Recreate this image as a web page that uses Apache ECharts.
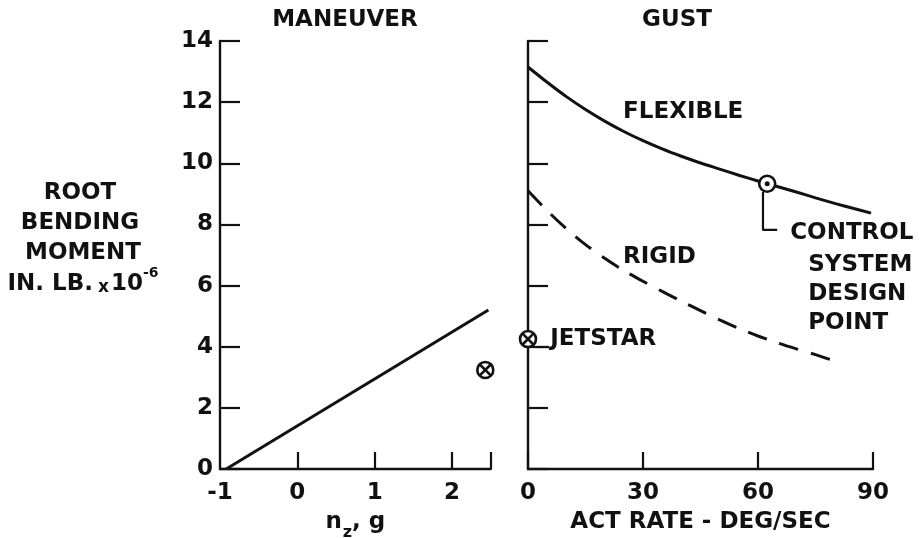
<!DOCTYPE html>
<html>
<head>
<meta charset="utf-8">
<script src="https://cdn.jsdelivr.net/npm/echarts@6/dist/echarts.min.js"></script>
<style>
html,body{margin:0;padding:0;background:#fff;}
#chart{width:922px;height:538px;}
</style>
</head>
<body>
<div id="chart"></div>
<script>
// ---- data ----
const yTicks = [0, 2, 4, 6, 8, 10, 12, 14];
const maneuverXTicks = [-1, 0, 1, 2];
const gustXTicks = [0, 30, 60, 90];

const maneuverNz = [-0.92, 2.47];
const maneuverMoment = [0, 5.2];

const gustRateFlex = [0, 5, 10, 15, 20, 25, 30, 35, 40, 45, 50, 55, 60, 65, 70, 75, 80, 85, 89.5];
const flexibleMoment = [13.15, 12.65, 12.18, 11.76, 11.38, 11.04, 10.74, 10.47, 10.23, 10.01, 9.81, 9.61, 9.42, 9.24, 9.06, 8.87, 8.69, 8.52, 8.37];

const gustRateRigid = [0, 5, 10, 15, 20, 25, 30, 35, 40, 45, 50, 55, 60, 65, 70, 75, 80.7];
const rigidMoment = [9.1, 8.45, 7.86, 7.34, 6.89, 6.49, 6.14, 5.81, 5.49, 5.18, 4.88, 4.6, 4.35, 4.13, 3.93, 3.74, 3.5];

const maneuverPoint = [2.43, 3.24];   // crossed circle, maneuver panel
const jetstarPoint = [0, 4.25];       // crossed circle, gust panel
const designPoint = [62.4, 9.33];     // control system design point

const designLeader = [[61.3, 9.06], [61.3, 7.82], [65.0, 7.82]];
const jetstarLeader = [[2.35, 3.99], [5.5, 3.99]];

const gustLabels = [
  { text: 'FLEXIBLE', at: [24.8, 11.68] },
  { text: 'RIGID', at: [24.8, 6.93] },
  { text: 'JETSTAR', at: [5.8, 4.26] },
  { text: 'CONTROL', at: [68.4, 7.72] },
  { text: 'SYSTEM\nDESIGN\nPOINT', at: [73.1, 5.72] }
];

// ---- chart ----
const FONT = 'DejaVu Sans';
const INK = '#111';
const FS = 23;
const chart = echarts.init(document.getElementById('chart'));

function pair(xs, ys) { return xs.map((x, i) => [x, ys[i]]); }

function markerItem(params, api) {
  const p = api.coord([api.value(0), api.value(1)]);
  const kind = api.value(2);
  const r = 8;
  const children = [{
    type: 'circle', shape: { cx: p[0], cy: p[1], r: r },
    style: { fill: '#fff', stroke: INK, lineWidth: 2.6 }
  }];
  if (kind === 1) {
    const d = r * 0.68;
    children.push({ type: 'line', shape: { x1: p[0] - d, y1: p[1] - d, x2: p[0] + d, y2: p[1] + d }, style: { stroke: INK, lineWidth: 2.6 } });
    children.push({ type: 'line', shape: { x1: p[0] + d, y1: p[1] - d, x2: p[0] - d, y2: p[1] + d }, style: { stroke: INK, lineWidth: 2.6 } });
  } else {
    children.push({ type: 'circle', shape: { cx: p[0], cy: p[1], r: 2.5 }, style: { fill: INK } });
  }
  return { type: 'group', children: children };
}

const axisLineStyle = { onZero: false, lineStyle: { color: INK, width: 2.4 } };
const tickLine = { color: INK, width: 2.2 };
const labelStyle = { color: INK, fontFamily: FONT, fontSize: FS, fontWeight: 'bold' };
const txtFont = 'bold ' + FS + 'px "DejaVu Sans"';

const option = {
  animation: false,
  backgroundColor: '#fff',
  grid: [
    { left: 220, top: 41, width: 270.7, height: 428, outerBoundsMode: 'none', containLabel: false },
    { left: 528, top: 41, width: 345, height: 428, outerBoundsMode: 'none', containLabel: false }
  ],
  xAxis: [
    {
      gridIndex: 0, type: 'value', min: -1, max: 2.5, interval: 1,
      axisLine: axisLineStyle, splitLine: { show: false },
      axisTick: { inside: true, length: 17, lineStyle: tickLine, customValues: [0, 1, 2, 2.5] },
      axisLabel: Object.assign({ margin: 13, customValues: maneuverXTicks }, labelStyle),
      name: '{n|n}{z|z}{n|, g}', nameLocation: 'middle', nameGap: 42,
      nameTextStyle: {
        color: INK, fontFamily: FONT, fontSize: FS, fontWeight: 'bold',
        rich: {
          n: { fontFamily: FONT, fontSize: FS, fontWeight: 'bold', color: INK, lineHeight: 30, verticalAlign: 'top' },
          z: { fontFamily: FONT, fontSize: 16, fontWeight: 'bold', color: INK, lineHeight: 30, verticalAlign: 'bottom', padding: [0, 0, 0, 1] }
        }
      }
    },
    {
      gridIndex: 1, type: 'value', min: 0, max: 90, interval: 30,
      axisLine: axisLineStyle, splitLine: { show: false },
      axisTick: { inside: true, length: 17, lineStyle: tickLine },
      axisLabel: Object.assign({ margin: 13, customValues: gustXTicks }, labelStyle),
      name: 'ACT RATE - DEG/SEC', nameLocation: 'middle', nameGap: 42,
      nameTextStyle: { color: INK, fontFamily: FONT, fontSize: FS, fontWeight: 'bold' }
    }
  ],
  yAxis: [
    {
      gridIndex: 0, type: 'value', min: 0, max: 14, interval: 2,
      axisLine: axisLineStyle, splitLine: { show: false },
      axisTick: { inside: true, length: 20, lineStyle: tickLine },
      axisLabel: Object.assign({ margin: 7, customValues: yTicks }, labelStyle)
    },
    {
      gridIndex: 1, type: 'value', min: 0, max: 14, interval: 2,
      axisLine: axisLineStyle, splitLine: { show: false },
      axisTick: { inside: true, length: 20, lineStyle: tickLine },
      axisLabel: { show: false }
    }
  ],
  graphic: [
    { type: 'text', x: 345, y: 20, style: { text: 'MANEUVER', font: txtFont, fill: INK, align: 'center', verticalAlign: 'middle' } },
    { type: 'text', x: 677, y: 20, style: { text: 'GUST', font: txtFont, fill: INK, align: 'center', verticalAlign: 'middle' } },
    { type: 'text', x: 80, y: 193, style: { text: 'ROOT', font: txtFont, fill: INK, align: 'center', verticalAlign: 'middle' } },
    { type: 'text', x: 80, y: 223, style: { text: 'BENDING', font: txtFont, fill: INK, align: 'center', verticalAlign: 'middle' } },
    { type: 'text', x: 83, y: 253, style: { text: 'MOMENT', font: txtFont, fill: INK, align: 'center', verticalAlign: 'middle' } },
    { type: 'text', x: 83, y: 281, style: {
        text: '{a|IN. LB.}{x|x}{a|10}{s|-6}', align: 'center', verticalAlign: 'middle',
        rich: {
          a: { fontFamily: FONT, fontSize: FS, fontWeight: 'bold', fill: INK, color: INK, lineHeight: 30, verticalAlign: 'bottom' },
          x: { fontFamily: FONT, fontSize: 17, fontWeight: 'bold', fill: INK, color: INK, lineHeight: 30, verticalAlign: 'bottom', padding: [0, 2, 0, 5] },
          s: { fontFamily: FONT, fontSize: 14, fontWeight: 'bold', fill: INK, color: INK, lineHeight: 30, verticalAlign: 'top' }
        }
      } }
  ],
  series: [
    {
      type: 'line', xAxisIndex: 0, yAxisIndex: 0, data: pair(maneuverNz, maneuverMoment),
      showSymbol: false, lineStyle: { color: INK, width: 3 }, silent: true
    },
    {
      type: 'line', xAxisIndex: 1, yAxisIndex: 1, data: pair(gustRateFlex, flexibleMoment),
      smooth: 0.3, showSymbol: false, lineStyle: { color: INK, width: 3 }, silent: true
    },
    {
      type: 'line', xAxisIndex: 1, yAxisIndex: 1, data: pair(gustRateRigid, rigidMoment),
      smooth: 0.3, showSymbol: false, lineStyle: { color: INK, width: 3, type: [20, 13] }, silent: true
    },
    {
      type: 'line', xAxisIndex: 1, yAxisIndex: 1, data: designLeader,
      showSymbol: false, lineStyle: { color: INK, width: 2.2 }, silent: true
    },
    {
      type: 'line', xAxisIndex: 1, yAxisIndex: 1, data: jetstarLeader,
      showSymbol: false, lineStyle: { color: INK, width: 2.2 }, silent: true, clip: false
    },
    {
      type: 'custom', xAxisIndex: 0, yAxisIndex: 0, clip: false, silent: true,
      renderItem: markerItem, data: [[maneuverPoint[0], maneuverPoint[1], 1]], z: 5
    },
    {
      type: 'custom', xAxisIndex: 1, yAxisIndex: 1, clip: false, silent: true,
      renderItem: markerItem, data: [[jetstarPoint[0], jetstarPoint[1], 1], [designPoint[0], designPoint[1], 0]], z: 5
    },
    {
      type: 'scatter', xAxisIndex: 1, yAxisIndex: 1, symbolSize: 0, silent: true,
      itemStyle: { opacity: 1, color: INK },
      data: gustLabels.map(l => ({ value: l.at, name: l.text })),
      label: {
        show: true, position: 'right', distance: 0, formatter: p => p.name, opacity: 1,
        color: INK, fontFamily: FONT, fontSize: FS, fontWeight: 'bold', lineHeight: 29, align: 'left'
      }
    }
  ]
};
chart.setOption(option);
</script>
</body>
</html>
